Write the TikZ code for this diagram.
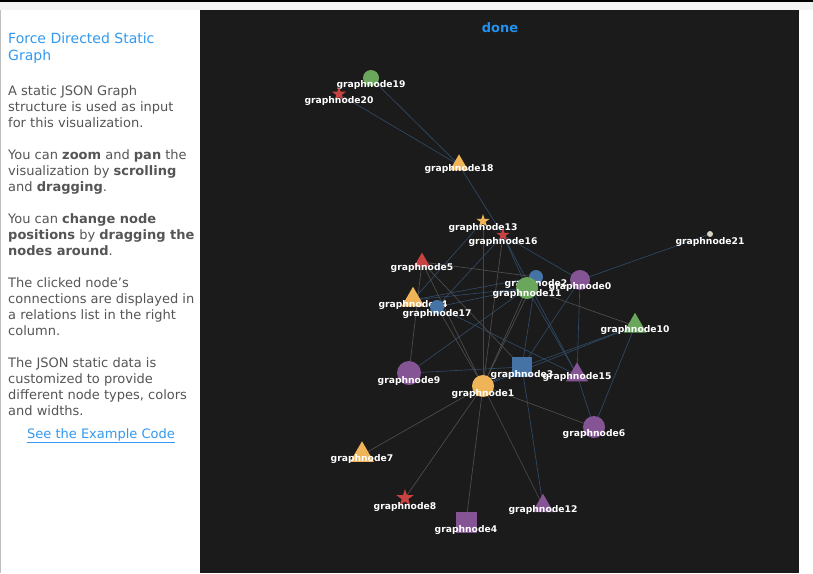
\documentclass[tikz,border=0pt]{standalone}
\usepackage{fontspec}
\setmainfont{DejaVu Sans}
\usetikzlibrary{shapes.geometric}
\definecolor{panel}{HTML}{1B1B1B}
\definecolor{strip}{HTML}{F3F3F3}
\definecolor{txtgray}{HTML}{555555}
\definecolor{linkblue}{HTML}{3399EE}
\definecolor{doneblue}{HTML}{2491F0}
\definecolor{cOrange}{HTML}{EFB458}
\definecolor{cGreen}{HTML}{6AA65C}
\definecolor{cPurple}{HTML}{845494}
\definecolor{cRed}{HTML}{C84242}
\definecolor{cBlue}{HTML}{4673A6}
\definecolor{cBeige}{HTML}{D6D3C2}
\definecolor{egray}{HTML}{4E4E4E}
\definecolor{eblue}{HTML}{304A66}
\begin{document}
\begin{tikzpicture}[x=1pt,y=-1pt,
	lbl/.style={text=white,font=\fontsize{9.2}{10}\selectfont\bfseries,inner sep=0pt},
	para/.style={text=txtgray,font=\fontsize{13}{16}\selectfont,anchor=base west,inner sep=0pt},
	ball/.style={circle,inner sep=0pt,minimum size=#1pt},
	tri/.style={regular polygon,regular polygon sides=3,inner sep=0pt,minimum size=#1pt},
	box/.style={rectangle,inner sep=0pt,minimum size=#1pt},
	spark/.style={star,star points=5,star point ratio=2.6,inner sep=0pt,minimum size=#1pt},
	grayedge/.style={egray,line width=0.65pt},
	blueedge/.style={eblue,line width=0.65pt}]
	\useasboundingbox (0,0) rectangle (813,573);
	\fill[strip] (0,0) rectangle (813,573);
	\fill[black] (0,0) rectangle (813,1.5);
	\fill[white] (0,10) rectangle (200,573);
	\draw[gray!50,line width=1pt] (0.5,10) -- (0.5,573);
	\fill[panel] (200,10) rectangle (799,573);
	\fill[white] (799,10) rectangle (813,573);
	\node[para,text=linkblue,font=\fontsize{14}{17}\selectfont] (title1) at (8,43) {Force Directed Static};
	\node[para,text=linkblue,font=\fontsize{14}{17}\selectfont] (title2) at (8,60) {Graph};
	\node[para] (t1) at (8,95) {A static JSON Graph};
	\node[para] (t2) at (8,111) {structure is used as input};
	\node[para] (t3) at (8,127) {for this visualization.};
	\node[para] (t4) at (8,159) {You can \textbf{zoom} and \textbf{pan} the};
	\node[para] (t5) at (8,175) {visualization by \textbf{scrolling}};
	\node[para] (t6) at (8,191) {and \textbf{dragging}.};
	\node[para] (t7) at (8,223) {You can \textbf{change node}};
	\node[para] (t8) at (8,239) {\textbf{positions} by \textbf{dragging the}};
	\node[para] (t9) at (8,255) {\textbf{nodes around}.};
	\node[para] (t10) at (8,287) {The clicked node's};
	\node[para] (t11) at (8,303) {connections are displayed in};
	\node[para] (t12) at (8,319) {a relations list in the right};
	\node[para] (t13) at (8,335) {column.};
	\node[para] (t14) at (8,367) {The JSON static data is};
	\node[para] (t15) at (8,383) {customized to provide};
	\node[para] (t16) at (8,399) {different node types, colors};
	\node[para] (t17) at (8,415) {and widths.};
	\node[para,anchor=base,text=linkblue] (link) at (101,438) {\underline{See the Example Code}};
	\node[text=doneblue,font=\fontsize{13}{15}\selectfont\bfseries] (done) at (500,28) {done};
	\foreach \i/\x/\y in {0/580/280,1/483/386,2/536/277,3/522/367,4/466/522,5/422/262,
		6/594/427,7/362/455,8/405/498,9/409/373,10/635/326,11/527/288,12/543/506,
		13/483/221,14/413/300,15/577/375,16/503/235,17/437/307,18/459/165,19/371/78,
		20/339/94,21/710/234}
		\coordinate (n\i) at (\x,\y);
	\foreach \a/\b in {19/18,20/18,18/16,21/0,16/0,16/11,16/15,16/17,13/14,13/1,14/11,14/2,
		17/11,17/15,9/11,9/3,3/10,3/0,3/12,3/1,0/15,15/6,10/6,1/10,11/15,2/3}
		\draw[blueedge] (n\a) -- (n\b);
	\foreach \a/\b in {5/2,5/9,5/1,5/3,1/7,1/8,1/4,1/12,1/6,11/10,16/1,11/1,17/1,2/1}
		\draw[grayedge] (n\a) -- (n\b);
	\foreach \i/\ly/\shape/\s/\c in {0/287/ball/20/cPurple,1/394/ball/22/cOrange,
		2/284/ball/14/cBlue,3/375/box/20/cBlue,4/530/box/21/cPurple,5/268/tri/18.7/cRed,
		6/434/ball/22/cPurple,7/459/tri/27.5/cOrange,8/507/spark/18/cRed,
		9/381/ball/24/cPurple,10/330/tri/26.5/cGreen,11/294/ball/22/cGreen,
		12/510/tri/24.5/cPurple,13/228/spark/14/cOrange,14/305/tri/26.5/cOrange,
		15/377/tri/25.5/cPurple,16/242/spark/14/cRed,17/314/ball/14/cBlue,
		18/169/tri/21.3/cOrange,19/85/ball/16/cGreen,20/101/spark/15/cRed,
		21/242/ball/6/cBeige}
	{
		\node[\shape=\s,fill=\c] (g\i) at (n\i) {};
		\node[lbl] (l\i) at (g\i.center |- 0,\ly) {graphnode\i};
	}
\end{tikzpicture}
\end{document}
